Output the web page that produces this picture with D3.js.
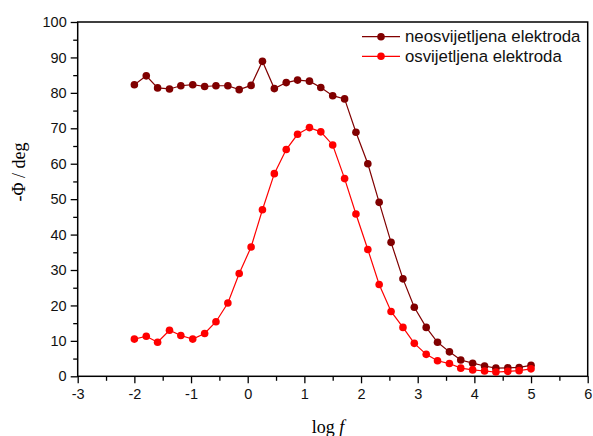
<!DOCTYPE html>
<html><head><meta charset="utf-8">
<script src="https://cdn.jsdelivr.net/npm/d3@7"></script>
<style>body{margin:0;background:#fff}svg{display:block}</style>
</head><body>
<svg id="c" width="593" height="436"></svg>
<script>
const logF = [-2, -1.79, -1.59, -1.38, -1.18, -0.97, -0.76, -0.56, -0.35, -0.15, 0.06, 0.26, 0.47, 0.68, 0.88, 1.09, 1.29, 1.5, 1.71, 1.91, 2.12, 2.32, 2.53, 2.74, 2.94, 3.15, 3.35, 3.56, 3.76, 3.97, 4.18, 4.38, 4.59, 4.79, 5];
const neosvijetljena = [82.3, 84.8, 81.4, 81.1, 82.0, 82.3, 81.8, 82.0, 82.0, 80.9, 82.1, 88.9, 81.2, 82.9, 83.6, 83.3, 81.5, 79.2, 78.3, 68.9, 60.0, 49.1, 37.8, 27.5, 19.5, 13.8, 9.6, 6.9, 4.6, 3.7, 2.9, 2.3, 2.4, 2.5, 3.1];
const osvijetljena = [10.5, 11.3, 9.6, 13.0, 11.5, 10.5, 12.1, 15.4, 20.7, 29.0, 36.5, 47.0, 57.2, 64.0, 68.3, 70.2, 69.0, 65.3, 55.8, 45.8, 35.8, 25.9, 18.3, 13.8, 9.3, 6.2, 4.4, 3.6, 2.3, 1.8, 1.5, 1.2, 1.4, 1.6, 2.1];
const seriesNames = ["neosvijetljena elektroda", "osvijetljena elektroda"];
const seriesColors = ["#800000", "#ff0000"];
const xTicks = [-3, -2, -1, 0, 1, 2, 3, 4, 5, 6];
const yTicks = [0, 10, 20, 30, 40, 50, 60, 70, 80, 90, 100];

const svg = d3.select("#c");
const L = 77.7, R = 587.7, T = 22, B = 376.3;
const x = d3.scaleLinear().domain([-3, 6]).range([L, R]);
const y = d3.scaleLinear().domain([0, 100]).range([B, T]);

// frame
svg.append("rect").attr("x", L).attr("y", T).attr("width", R - L).attr("height", B - T)
  .attr("fill", "none").attr("stroke", "#000").attr("stroke-width", 1.5);

const tickFont = "'Liberation Sans', Arial, sans-serif";
const fmt = d => String(d);
// x axis
svg.append("g").attr("transform", `translate(0,${B})`)
  .call(d3.axisBottom(x).tickValues(xTicks).tickFormat(fmt).tickSizeOuter(0).tickSize(7).tickPadding(5));
svg.append("g").attr("transform", `translate(0,${B})`)
  .call(d3.axisBottom(x).tickValues(d3.range(-2.5, 6, 1)).tickFormat("").tickSizeOuter(0).tickSize(4.5));
// y axis
svg.append("g").attr("transform", `translate(${L},0)`)
  .call(d3.axisLeft(y).tickValues(yTicks).tickFormat(fmt).tickSizeOuter(0).tickSize(7).tickPadding(4));
svg.append("g").attr("transform", `translate(${L},0)`)
  .call(d3.axisLeft(y).tickValues(d3.range(5, 100, 10)).tickFormat("").tickSizeOuter(0).tickSize(4.5));
svg.selectAll(".domain").remove();
svg.selectAll(".tick line").attr("stroke", "#000").attr("stroke-width", 1.3);
svg.selectAll(".tick text").attr("font-family", tickFont).attr("font-size", 14.5).attr("fill", "#111");

// axis titles
const xl = svg.append("text").attr("x", 328).attr("y", 433).attr("text-anchor", "middle")
  .attr("font-family", "'Liberation Serif', 'Times New Roman', serif").attr("font-size", 18);
xl.append("tspan").text("log ");
xl.append("tspan").attr("font-style", "italic").text("f");
svg.append("text").attr("transform", "translate(25,172) rotate(-90)").attr("text-anchor", "middle")
  .attr("font-family", "'Liberation Serif', 'Times New Roman', serif").attr("font-size", 18)
  .text("-Φ / deg");

// series
const allSeries = [neosvijetljena, osvijetljena];
const line = d3.line().x((d, i) => x(logF[i])).y(d => y(d));
allSeries.forEach((vals, k) => {
  const g = svg.append("g");
  g.append("path").datum(vals).attr("d", line).attr("fill", "none")
    .attr("stroke", seriesColors[k]).attr("stroke-width", 1.2);
  g.selectAll("circle").data(vals).join("circle")
    .attr("cx", (d, i) => x(logF[i])).attr("cy", d => y(d)).attr("r", 3.8)
    .attr("fill", seriesColors[k]);
});

// legend
const lg = svg.append("g");
seriesNames.forEach((n, k) => {
  const yy = 36.7 + k * 19.6;
  lg.append("line").attr("x1", 362).attr("x2", 400).attr("y1", yy).attr("y2", yy)
    .attr("stroke", seriesColors[k]).attr("stroke-width", 1.2);
  lg.append("circle").attr("cx", 381).attr("cy", yy).attr("r", 3.8).attr("fill", seriesColors[k]);
  lg.append("text").attr("x", 405).attr("y", yy + 5.5).attr("font-family", tickFont)
    .attr("font-size", 16.8).attr("fill", "#111").text(n);
});
</script>
</body></html>
